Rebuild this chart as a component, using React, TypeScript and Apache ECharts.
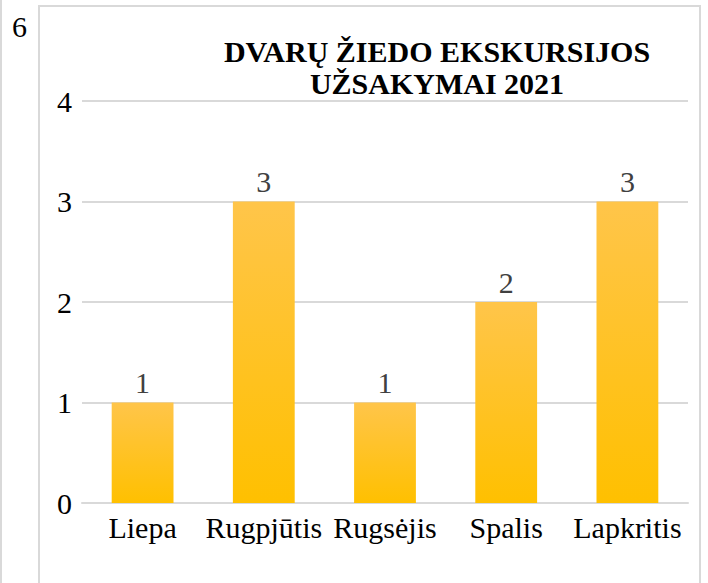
import React, { useEffect, useRef } from "react";
import * as echarts from "echarts";

const categories = ["Liepa", "Rugpjūtis", "Rugsėjis", "Spalis", "Lapkritis"];
const values = [1, 3, 1, 2, 3];
const titleLines = ["DVARŲ ŽIEDO EKSKURSIJOS", "UŽSAKYMAI 2021"];
const strayLabel = "6";

export default function App() {
  const ref = useRef<HTMLDivElement>(null);
  useEffect(() => {
    if (!ref.current) return;
    const chart = echarts.init(ref.current, undefined, { renderer: "svg" });
    const font = "Liberation Serif";
    chart.setOption({
      animation: false,
      backgroundColor: "#ffffff",
      title: [
        {
          text: titleLines.join("\n"),
          left: 432,
          top: 30,
          textAlign: "center",
          textStyle: {
            fontFamily: font,
            fontSize: 30,
            fontWeight: "bold",
            color: "#000000",
            lineHeight: 32,
          },
        },
        {
          text: strayLabel,
          left: 7,
          top: 6,
          textStyle: {
            fontFamily: font,
            fontSize: 30,
            fontWeight: "normal",
            color: "#000000",
          },
        },
      ],
      graphic: [
        {
          type: "rect",
          shape: { x: 39, y: 6, width: 661, height: 600 },
          style: { fill: "none", stroke: "#D9D9D9", lineWidth: 2 },
          silent: true,
          z: -1,
        },
        {
          type: "line",
          shape: { x1: 1, y1: 0, x2: 1, y2: 583 },
          style: { stroke: "#D9D9D9", lineWidth: 2 },
          silent: true,
        },
      ],
      grid: { left: 82, right: 20, top: 101, bottom: 80, containLabel: false },
      xAxis: {
        type: "category",
        data: categories,
        axisLine: { show: true, lineStyle: { color: "#D9D9D9", width: 2 } },
        axisTick: { show: false },
        axisLabel: {
          fontFamily: font,
          fontSize: 30,
          color: "#000000",
          margin: 9,
          interval: 0,
        },
      },
      yAxis: {
        type: "value",
        min: 0,
        max: 4,
        interval: 1,
        axisLine: { show: false },
        axisTick: { show: false },
        splitLine: { lineStyle: { color: "#D9D9D9", width: 2 } },
        axisLabel: {
          fontFamily: font,
          fontSize: 30,
          color: "#000000",
          margin: 10,
        },
      },
      series: [
        {
          type: "bar",
          data: values,
          barWidth: "51%",
          itemStyle: {
            color: new echarts.graphic.LinearGradient(0, 0, 0, 1, [
              { offset: 0, color: "#FFC54A" },
              { offset: 1, color: "#FFC000" },
            ]),
          },
          label: {
            show: true,
            position: "top",
            distance: 5,
            fontFamily: font,
            fontSize: 30,
            color: "#404040",
          },
        },
      ],
    });
    return () => chart.dispose();
  }, []);
  return <div ref={ref} style={{ width: 708, height: 583, position: "absolute", left: 0, top: 0 }} />;
}
